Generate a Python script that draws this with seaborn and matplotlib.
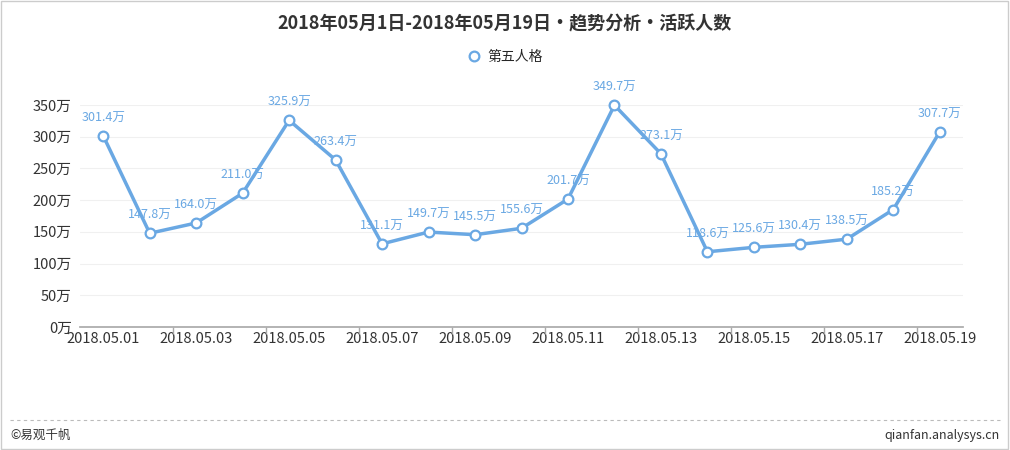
import matplotlib
matplotlib.use("Agg")
import matplotlib.pyplot as plt
import seaborn as sns
import pandas as pd
import numpy as np

dates = ["2018.05.%02d" % d for d in range(1, 20)]
values = [301.4, 147.8, 164.0, 211.0, 325.9, 263.4, 131.1, 149.7, 145.5, 155.6,
          201.7, 349.7, 273.1, 118.6, 125.6, 130.4, 138.5, 185.2, 307.7]
series_name = "第五人格"
yticks = [0, 50, 100, 150, 200, 250, 300, 350]

sns.set_theme(style="white")
plt.rcParams['font.family'] = ['Noto Sans CJK SC', 'DejaVu Sans']

df = pd.DataFrame({"x": range(len(dates)), "v": values})
fig = plt.figure(figsize=(10.1, 4.5), dpi=100)
ax = fig.add_axes([80/1010, 1-327/450, 883/1010, 222/450])
color = "#6aa8e3"
sns.lineplot(data=df, x="x", y="v", ax=ax, color=color, lw=2.5, marker="o",
             markersize=7, markerfacecolor="white", markeredgecolor=color,
             markeredgewidth=1.6, label=series_name, legend=False)
for l in ax.lines:
    l.set_clip_on(False)
for i, v in enumerate(values):
    ax.annotate(f"{v:.1f}万", (i, v), xytext=(0, 8), textcoords="offset points",
                ha="center", va="bottom", fontsize=9, color=color)
ax.set_xlim(-0.5, len(dates) - 0.5)
ax.set_ylim(0, 350)
ax.set_yticks(yticks)
ax.set_yticklabels([f"{t}万" for t in yticks], fontsize=10.5, color="#333333")
ax.set_xticks(range(0, len(dates), 2))
ax.set_xticklabels(dates[::2], fontsize=10.5, color="#333333")
ax.set_xticks(np.arange(1.5, len(dates) - 1, 2), minor=True)
ax.set_xlabel(""); ax.set_ylabel("")
ax.grid(axis="y", color="#f0f0f0", lw=0.8)
for s in ["top", "right", "left"]:
    ax.spines[s].set_visible(False)
ax.spines["bottom"].set_color("#aaaaaa")
ax.tick_params(axis="x", which="major", length=0)
ax.tick_params(axis="x", which="minor", length=5, color="#aaaaaa", bottom=True)
ax.tick_params(axis="y", length=0, pad=6)

fig.text(0.5, 1-24/450, "2018年05月1日-2018年05月19日・趋势分析・活跃人数",
         ha="center", va="center", fontsize=13, fontweight="bold", color="#333333")
leg = ax.legend(loc="center", bbox_to_anchor=(0.5, 1-57/450), bbox_transform=fig.transFigure,
          frameon=False, fontsize=10, handlelength=1, markerscale=1, handletextpad=0.4)
leg.get_lines()[0].set_linestyle("none")
fig.add_artist(plt.Line2D([10/1010, 1000/1010], [1-420/450]*2, ls=(0, (3, 3)),
                          color="#bbbbbb", lw=0.8))
fig.text(10/1010, 1-435/450, "©易观千帆", fontsize=9, va="center", color="#333333")
fig.text(1000/1010, 1-435/450, "qianfan.analysys.cn", fontsize=9, va="center",
         ha="right", color="#333333")
fig.add_artist(plt.Rectangle((0.001, 0.002), 0.997, 0.996, fill=False,
                             ec="#cccccc", lw=1, transform=fig.transFigure))
fig.savefig("out.png", dpi=100)
